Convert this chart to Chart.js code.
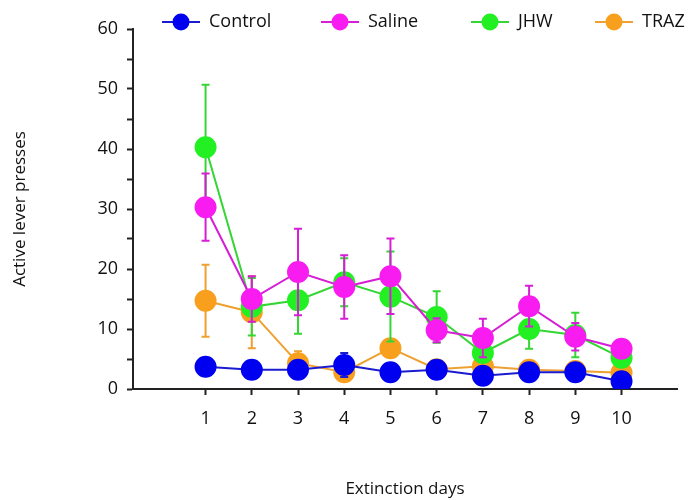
<!DOCTYPE html>
<html>
<head>
<meta charset="utf-8">
<script src="https://cdn.jsdelivr.net/npm/chart.js@4.4.0/dist/chart.umd.min.js"></script>
<style>
  html, body { margin: 0; padding: 0; background: #fff; }
  #wrap { width: 689px; height: 500px; }
</style>
</head>
<body>
<div id="wrap"><canvas id="myChart"></canvas></div>
<script>
// Extinction days and group means / SEM
const days = [1, 2, 3, 4, 5, 6, 7, 8, 9, 10];
const controlMean = [3.7, 3.2, 3.2, 4.0, 2.8, 3.2, 2.2, 2.8, 2.8, 1.3];
const controlErr  = [0.6, 0.5, 0.5, 2.0, 0.5, 0.6, 0.6, 0.5, 0.8, 0.4];
const salineMean  = [30.3, 15.0, 19.5, 17.0, 18.8, 9.8, 8.5, 13.8, 8.7, 6.7];
const salineErr   = [5.6, 3.8, 7.2, 5.3, 6.3, 2.0, 3.2, 3.4, 2.3, 0.8];
const jhwMean     = [40.3, 13.7, 14.8, 17.8, 15.4, 12.0, 6.0, 10.0, 9.0, 5.2];
const jhwErr      = [10.4, 4.8, 5.6, 4.0, 7.5, 4.3, 1.5, 3.3, 3.7, 0.8];
const trazMean    = [14.7, 12.8, 4.3, 2.8, 6.8, 3.3, 3.8, 3.2, 3.0, 2.7];
const trazErr     = [6.0, 6.0, 2.0, 1.0, 0.6, 0.6, 0.6, 1.5, 0.6, 0.5];
const yTicks = [0, 10, 20, 30, 40, 50, 60];

const font = "'Open Sans', 'Liberation Sans', sans-serif";

function series(label, mean, err, line, fill) {
    return {
        label: label,
        data: days.map((d, i) => ({ x: d, y: mean[i], err: err[i] })),
        borderColor: line,
        backgroundColor: fill,
        pointBackgroundColor: fill,
        pointBorderColor: fill,
        pointRadius: 10,
        pointHoverRadius: 10,
        borderWidth: 2,
        errColor: line
    };
}

// vertical error bars with caps, drawn under each dataset's points
const errorBars = {
    id: 'errorBars',
    beforeDatasetDraw(chart, args) {
        const ds = chart.data.datasets[args.index];
        const meta = args.meta;
        const y = chart.scales.y;
        const ctx = chart.ctx;
        ctx.save();
        ctx.strokeStyle = ds.errColor;
        ctx.lineWidth = 2;
        meta.data.forEach((pt, i) => {
            const d = ds.data[i];
            const top = y.getPixelForValue(d.y + d.err);
            const bot = y.getPixelForValue(d.y - d.err);
            ctx.beginPath();
            ctx.moveTo(pt.x, top); ctx.lineTo(pt.x, bot);
            ctx.moveTo(pt.x - 4, top); ctx.lineTo(pt.x + 4, top);
            ctx.moveTo(pt.x - 4, bot); ctx.lineTo(pt.x + 4, bot);
            ctx.stroke();
        });
        ctx.restore();
    }
};

// legend row: line segment with a dot, then the label
const lineLegend = {
    id: 'lineLegend',
    afterDraw(chart) {
        const ctx = chart.ctx;
        const starts = [162, 321, 471, 595];
        const yc = 22;
        ctx.save();
        ctx.font = '18px ' + font;
        ctx.textBaseline = 'middle';
        chart.data.datasets.forEach((ds, i) => {
            const x0 = starts[i];
            ctx.strokeStyle = ds.borderColor;
            ctx.lineWidth = 2;
            ctx.beginPath();
            ctx.moveTo(x0, yc); ctx.lineTo(x0 + 38, yc);
            ctx.stroke();
            ctx.fillStyle = ds.pointBackgroundColor;
            ctx.beginPath();
            ctx.arc(x0 + 19, yc, 8.5, 0, Math.PI * 2);
            ctx.fill();
            ctx.fillStyle = '#111';
            ctx.fillText(ds.label, x0 + 47, yc);
        });
        ctx.restore();
    }
};

const data = {
    datasets: [
        series('Control', controlMean, controlErr, '#1a1ad0', '#0000f0'),
        series('Saline', salineMean, salineErr, '#d61ed6', '#f81cf0'),
        series('JHW', jhwMean, jhwErr, '#33d633', '#22f022'),
        series('TRAZ', trazMean, trazErr, '#eea030', '#f8a01e')
    ]
};

const config = {
    type: 'line',
    data: data,
    plugins: [errorBars, lineLegend],
    options: {
        responsive: true,
        maintainAspectRatio: false,
        animation: false,
        layout: { padding: { top: 29, right: 0, left: 0, bottom: 0 } },
        plugins: {
            legend: { display: false },
            tooltip: { enabled: false }
        },
        scales: {
            x: {
                type: 'linear',
                min: -0.57,
                max: 11.2,
                afterBuildTicks: (s) => { s.ticks = days.map(v => ({ value: v })); },
                afterFit: (s) => { s.height = 111; },
                grid: { drawOnChartArea: false, tickLength: 6, tickWidth: 2, color: '#222' },
                border: { color: '#222', width: 2 },
                ticks: { color: '#111', padding: 13, font: { family: font, size: 18 } },
                title: {
                    display: true,
                    text: 'Extinction days',
                    color: '#111',
                    padding: { top: 0, bottom: 1 },
                    font: { family: font, size: 17 }
                }
            },
            y: {
                min: 0,
                max: 60,
                afterBuildTicks: (s) => {
                    s.ticks = [];
                    for (let v = 0; v <= 60; v += 5) s.ticks.push({ value: v });
                },
                afterFit: (s) => { s.width = 133; },
                grid: { drawOnChartArea: false, tickLength: 6, tickWidth: 2, color: '#222' },
                border: { color: '#222', width: 2 },
                ticks: {
                    color: '#111',
                    padding: 9,
                    font: { family: font, size: 18 },
                    callback: (v) => yTicks.includes(v) ? v : ''
                },
                title: {
                    display: true,
                    text: 'Active lever presses',
                    color: '#111',
                    padding: { top: 10, bottom: 0 },
                    font: { family: font, size: 17 }
                }
            }
        }
    }
};

var myChart = new Chart(document.getElementById('myChart'), config);
</script>
</body>
</html>
